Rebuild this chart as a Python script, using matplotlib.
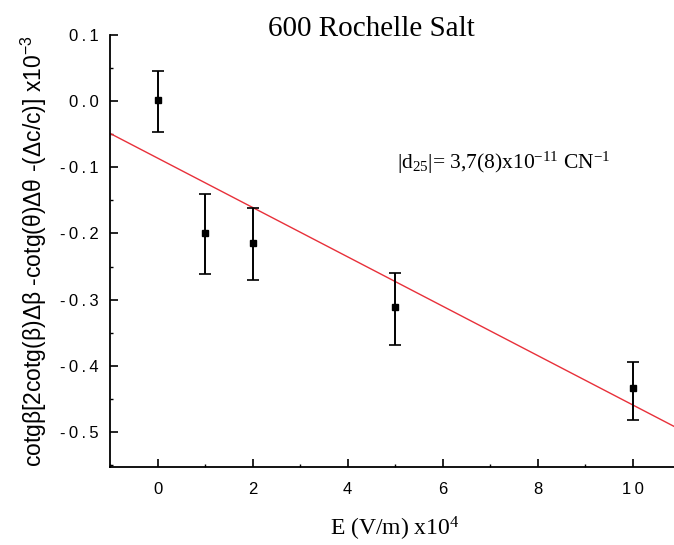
import numpy as np
import matplotlib
matplotlib.use("Agg")
import matplotlib.pyplot as plt
from matplotlib.ticker import MultipleLocator, FuncFormatter

# data
field = np.array([0, 1, 2, 5, 10])
value = np.array([0.002, -0.200, -0.215, -0.311, -0.434])
err_up = np.array([0.043, 0.059, 0.053, 0.052, 0.039])
err_dn = np.array([0.049, 0.062, 0.056, 0.057, 0.048])

# fitted straight line
fit_intercept = -0.086
fit_slope = -0.0373

serif = ["Liberation Serif", "DejaVu Serif"]
sans = ["Liberation Sans", "DejaVu Sans"]


def spaced(fmt):
    # origin style tick labels are drawn a bit wider
    return FuncFormatter(lambda v, p: "\u2009".join(fmt.format(v)))


def main():
    plt.rcParams["axes.unicode_minus"] = False
    fig = plt.figure(figsize=(6.74, 5.45), dpi=100)
    ax = fig.add_axes([110 / 674, 1 - 467 / 545, 570 / 674, 432 / 545])

    xl = np.array([-1, 11])
    ax.plot(xl, fit_intercept + fit_slope * xl, color="#e8303a", lw=1.0)
    ax.errorbar(field, value, yerr=[err_dn, err_up], fmt="s", color="black",
                ms=5, capsize=4, elinewidth=1.4, capthick=1.2)

    ax.set_xlim(-1, 11)
    ax.set_ylim(-0.553, 0.1)
    ax.spines["top"].set_visible(False)
    ax.spines["right"].set_visible(False)
    ax.spines["left"].set_linewidth(1.3)
    ax.spines["bottom"].set_linewidth(1.3)

    ax.xaxis.set_major_locator(MultipleLocator(2))
    ax.xaxis.set_minor_locator(MultipleLocator(1))
    ax.yaxis.set_major_locator(MultipleLocator(0.1))
    ax.yaxis.set_minor_locator(MultipleLocator(0.05))
    ax.xaxis.set_major_formatter(spaced("{:.0f}"))
    ax.yaxis.set_major_formatter(spaced("{:.1f}"))
    ax.tick_params(which="major", direction="in", length=6, width=1.2)
    ax.tick_params(which="minor", direction="in", length=2.5, width=1.0)
    ax.tick_params(axis="x", which="major", pad=11)
    ax.tick_params(axis="y", which="major", pad=8)
    for lab in ax.get_xticklabels() + ax.get_yticklabels():
        lab.set_fontfamily(sans)
        lab.set_fontsize(12)

    ax.set_xlabel(r"E (V/m) x10$\mathregular{^4}$", family=serif, fontsize=17, labelpad=13)
    ax.set_ylabel("cotgβ[2cotg(β)Δβ -cotg(θ)Δθ -(Δc/c)] x10$\\mathregular{^{-3}}$",
                  family=sans, fontsize=16.5, labelpad=8)
    fig.text(371 / 674, 1 - 29 / 545, "600 Rochelle Salt", family=serif, fontsize=21,
             ha="center", va="center")
    ax.text(5.05, -0.093, r"|d$\mathregular{_{25}}$|= 3,7(8)x10$\mathregular{^{-11}}$ CN$\mathregular{^{-1}}$",
            family=serif, fontsize=15.5, ha="left", va="center")

    fig.savefig("out.png", dpi=100)


if __name__ == "__main__":
    main()
